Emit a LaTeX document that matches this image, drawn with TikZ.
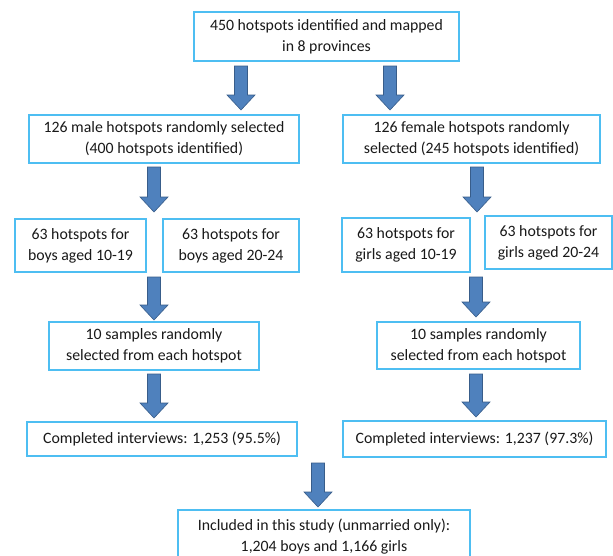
\documentclass[tikz,border=0pt]{standalone}
\usepackage{fontspec}
\setmainfont{Carlito}
\usetikzlibrary{calc}
\definecolor{boxblue}{RGB}{78,190,242}
\definecolor{arrfill}{RGB}{79,129,189}
\definecolor{arrdraw}{RGB}{56,93,138}
\tikzset{
 fbox/.style={draw=boxblue, line width=1.7pt, fill=white, align=center, inner sep=0pt, font=\fontsize{15.8}{21}\selectfont, text=black!90},
 barrow/.style={fill=arrfill, draw=arrdraw, line width=0.6pt, line join=miter},
}
\newcommand\blockarr[2]{\path[barrow] let \p1=(#1), \p2=(#2) in (\x1-6.5pt,\y1) -- (\x1+6.5pt,\y1) -- (\x1+6.5pt,\y2+15pt) -- (\x1+14pt,\y2+15pt) -- (\x1,\y2) -- (\x1-14pt,\y2+15pt) -- (\x1-6.5pt,\y2+15pt) -- cycle;}
\begin{document}
\begin{tikzpicture}[x=1pt,y=-1pt]
\useasboundingbox (0,0) rectangle (613,555);
\fill[white] (0,0) rectangle (613,555);
\node[fbox, minimum width=265, minimum height=49] (top) at (326.5,36.5) {450 hotspots identified and mapped\\in 8 provinces};
\node[fbox, minimum width=270, minimum height=48] (m1) at (164,139) {126 male hotspots randomly selected\\(400 hotspots identified)};
\node[fbox, minimum width=257, minimum height=48] (f1) at (471.5,139) {126 female hotspots randomly\\selected (245 hotspots identified)};
\node[fbox, minimum width=131, minimum height=53] (m2a) at (80.5,245.5) {63 hotspots for\\boys aged 10-19};
\node[fbox, minimum width=136, minimum height=53] (m2b) at (231,245.5) {63 hotspots for\\boys aged 20-24};
\node[fbox, minimum width=128, minimum height=54] (f2a) at (406,245) {63 hotspots for\\girls aged 10-19};
\node[fbox, minimum width=127, minimum height=53] (f2b) at (548.5,242.5) {63 hotspots for\\girls aged 20-24};
\node[fbox, minimum width=210, minimum height=48] (m3) at (154,346) {10 samples randomly\\selected from each hotspot};
\node[fbox, minimum width=203, minimum height=47] (f3) at (478.5,345.5) {10 samples randomly\\selected from each hotspot};
\node[fbox, minimum width=270, minimum height=34] (m4) at (162,439) {Completed interviews: 1,253 (95.5\%)};
\node[fbox, minimum width=263, minimum height=36] (f4) at (474.5,439) {Completed interviews: 1,237 (97.3\%)};
\node[fbox, minimum width=292, minimum height=54] (fin) at (324,537) {Included in this study (unmarried only):\\1,204 boys and 1,166 girls};
\coordinate (a1s) at (241,66);  \coordinate (a1e) at (241,110);
\coordinate (a2s) at (390,66);  \coordinate (a2e) at (390,110);
\coordinate (a3s) at (154,167); \coordinate (a3e) at (154,212);
\coordinate (a4s) at (477,167); \coordinate (a4e) at (477,212);
\coordinate (a5s) at (154,277); \coordinate (a5e) at (154,320);
\coordinate (a6s) at (476,277); \coordinate (a6e) at (476,317);
\coordinate (a7s) at (154,374); \coordinate (a7e) at (154,418);
\coordinate (a8s) at (476,374); \coordinate (a8e) at (476,417);
\coordinate (a9s) at (318,463); \coordinate (a9e) at (318,507);
\blockarr{a1s}{a1e}
\blockarr{a2s}{a2e}
\blockarr{a3s}{a3e}
\blockarr{a4s}{a4e}
\blockarr{a5s}{a5e}
\blockarr{a6s}{a6e}
\blockarr{a7s}{a7e}
\blockarr{a8s}{a8e}
\blockarr{a9s}{a9e}
\end{tikzpicture}
\end{document}
